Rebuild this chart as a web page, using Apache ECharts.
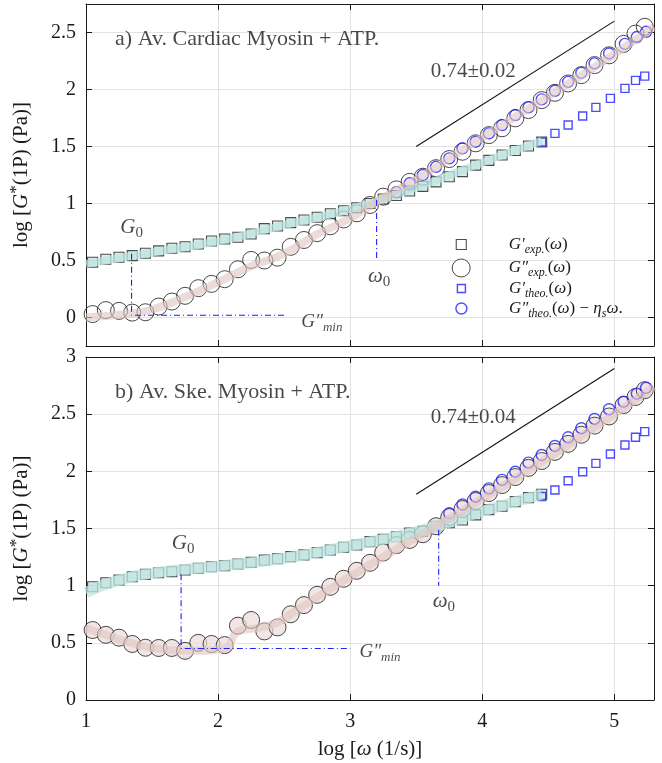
<!DOCTYPE html>
<html>
<head>
<meta charset="utf-8"/>
<title>log G* vs log omega</title>
<script src="https://cdn.jsdelivr.net/npm/echarts@6/dist/echarts.min.js"></script>
<style>
html, body { margin: 0; padding: 0; background: #fff; }
#placeholder { width: 662px; height: 763px; }
</style>
</head>
<body>
<div id="placeholder"></div>
<script>
// log(omega) of the measured points
var xStore = [1.05,1.15,1.25,1.35,1.45,1.55,1.65,1.75,1.85,1.95,2.05,2.15,2.25,2.35,2.45,2.55,2.65,2.75,2.85,2.95,
              3.05,3.15,3.25,3.35,3.45,3.55,3.65,3.75,3.85,3.95,4.05,4.15,4.25,4.35,4.45];
var xLoss  = [1.05,1.15,1.25,1.35,1.45,1.55,1.65,1.75,1.85,1.95,2.05,2.15,2.25,2.35,2.45,2.55,2.65,2.75,2.85,2.95,
              3.05,3.15,3.25,3.35,3.45,3.55,3.65,3.75,3.85,3.95,4.05,4.15,4.25,4.35,4.45,4.55,4.65,4.75,4.85,4.96,
              5.07,5.16,5.23];
var xTheoStore = [4.45,4.55,4.65,4.76,4.86,4.97,5.08,5.16,5.23];

// a) cardiac myosin
var aStore = [0.485,0.511,0.528,0.543,0.563,0.584,0.607,0.621,0.645,0.671,0.689,0.704,0.733,0.78,0.803,0.832,0.855,0.879,0.91,0.937,
              0.963,1.0,1.04,1.07,1.11,1.15,1.19,1.235,1.28,1.337,1.378,1.425,1.465,1.505,1.54];
var aLoss  = [0.03,0.065,0.058,0.043,0.046,0.096,0.14,0.19,0.257,0.295,0.336,0.423,0.505,0.50,0.525,0.62,0.68,0.74,0.80,0.86,
              0.914,0.987,1.06,1.124,1.19,1.235,1.31,1.39,1.454,1.528,1.60,1.66,1.747,1.82,1.907,1.971,2.053,2.126,2.214,2.30,
              2.40,2.49,2.55];
var aTheoStore = [1.54,1.615,1.688,1.767,1.843,1.922,2.01,2.08,2.117];
var aTheoLossX = [3.35,3.45,3.55,3.65,3.75,3.85,3.95,4.05,4.15,4.25,4.35,4.45,4.55,4.65,4.75,4.85,4.96,5.08,5.17,5.24];
var aTheoLoss  = [1.10,1.177,1.25,1.322,1.396,1.484,1.542,1.615,1.688,1.776,1.843,1.913,1.989,2.067,2.146,2.229,2.316,2.40,2.46,2.506];

// b) skeletal myosin
var bStore = [0.99,1.026,1.05,1.078,1.099,1.113,1.122,1.137,1.152,1.166,1.175,1.19,1.204,1.225,1.235,1.254,1.269,1.289,1.312,1.336,
              1.356,1.385,1.405,1.428,1.46,1.475,1.52,1.55,1.575,1.619,1.665,1.695,1.735,1.77,1.80];
var bLoss  = [0.612,0.57,0.545,0.49,0.457,0.455,0.455,0.43,0.50,0.49,0.48,0.65,0.70,0.60,0.635,0.75,0.83,0.92,0.99,1.06,
              1.13,1.20,1.29,1.355,1.40,1.45,1.52,1.60,1.67,1.74,1.81,1.88,1.95,2.03,2.09,2.17,2.24,2.32,2.40,2.48,
              2.58,2.65,2.71];
var bTheoStore = [1.78,1.837,1.918,1.997,2.07,2.152,2.23,2.298,2.347];
var bTheoLossX = [3.75,3.85,3.95,4.05,4.15,4.25,4.35,4.45,4.55,4.65,4.75,4.85,4.96,5.07,5.17,5.24];
var bTheoLoss  = [1.633,1.71,1.778,1.851,1.925,1.997,2.076,2.143,2.222,2.298,2.377,2.458,2.543,2.61,2.68,2.73];

// pale fit bands behind the markers
var aBandStoreX = [1.0,1.5,2.0,2.5,3.0,3.5,4.0,4.45];
var aBandStore  = [0.47,0.57,0.67,0.81,0.95,1.14,1.36,1.55];
var aBandLossX  = [1.0,1.3,1.5,1.75,2.0,2.25,2.5,2.75,3.0,3.25,3.5,4.0,4.5,5.0,5.3];
var aBandLoss   = [0.0,0.03,0.07,0.18,0.31,0.45,0.56,0.73,0.87,1.05,1.21,1.58,1.94,2.31,2.55];
var bBandStoreX = [1.0,1.2,1.5,2.0,2.5,3.0,3.5,4.0,4.45];
var bBandStore  = [0.94,1.03,1.11,1.17,1.24,1.35,1.47,1.65,1.8];
var bBandLossX  = [1.0,1.2,1.4,1.6,1.8,2.05,2.15,2.3,2.45,2.6,3.0,3.5,4.0,4.5,5.0,5.3];
var bBandLoss   = [0.63,0.55,0.48,0.44,0.43,0.45,0.6,0.63,0.68,0.79,1.08,1.42,1.76,2.12,2.5,2.74];

// slope guides and G0 / omega0 construction lines
var aSlope = [[3.5,1.5],[5.0,2.6]];
var bSlope = [[3.5,1.8],[5.0,2.9]];
var aG0 = [[1.345,0.56],[1.345,0.02],[2.5,0.02]];
var aW0 = [[3.2,1.03],[3.2,0.5]];
var bG0 = [[1.72,1.1],[1.72,0.45],[3.0,0.45]];
var bW0 = [[3.67,1.49],[3.67,1.0]];

// annotation anchors (left-middle of the text)
var aNotes = [[1.22,2.44],[3.61,2.16],[1.26,0.79],[3.135,0.36],[2.63,-0.04]];
var bNotes = [[1.22,2.69],[3.61,2.47],[1.65,1.37],[3.625,0.86],[3.07,0.42]];

var FONT = "'Liberation Serif', 'DejaVu Serif', serif";
var INK = '#1a1a1a';
var BLUE = '#1f1fff';

function zip(xs, ys) {
	return xs.map(function (x, i) { return [x, ys[i]]; });
}

function rich(size) {
	var sub = Math.round(size * 0.7);
	return {
		n: { fontFamily: FONT, fontSize: size, lineHeight: size + 5, color: INK },
		i: { fontFamily: FONT, fontSize: size, fontStyle: 'italic', lineHeight: size + 5, color: INK },
		s: { fontFamily: FONT, fontSize: sub, fontStyle: 'italic', lineHeight: sub, verticalAlign: 'bottom', color: INK },
		r: { fontFamily: FONT, fontSize: sub, lineHeight: sub, verticalAlign: 'bottom', color: INK },
		u: { fontFamily: FONT, fontSize: sub + 2, lineHeight: sub, verticalAlign: 'top', color: INK }
	};
}

function xAxis(gi, pos, withLabels, name) {
	return {
		type: 'value', gridIndex: gi, position: pos, min: 1, max: 5.3, interval: 1,
		name: name || '', nameLocation: 'middle', nameGap: 36,
		nameTextStyle: { rich: rich(21) },
		axisLine: { show: true, onZero: false, lineStyle: { color: INK, width: 1 } },
		axisTick: { show: true, inside: true, length: 6, lineStyle: { color: INK } },
		axisLabel: {
			show: withLabels, margin: 12, color: INK, fontFamily: FONT, fontSize: 20,
			formatter: function (v) { return v % 1 === 0 ? String(v) : ''; }
		},
		splitLine: { show: pos === 'bottom', lineStyle: { color: '#e2e2e2', width: 1 } }
	};
}

function yAxis(gi, pos, min, max, withName) {
	var ax = {
		type: 'value', gridIndex: gi, position: pos, min: min, max: max,
		name: withName ? '{n|log [}{i|G}{u|*}{n|(1P) (Pa)]}' : '',
		nameLocation: 'middle', nameGap: 52, nameRotate: 90,
		nameTextStyle: { rich: rich(21) },
		axisLine: { show: true, onZero: false, lineStyle: { color: INK, width: 1 } },
		axisTick: { show: true, inside: true, length: 6, lineStyle: { color: INK } },
		axisLabel: {
			show: pos === 'left', margin: 10, color: INK, fontFamily: FONT, fontSize: 20,
			formatter: function (v) { return Math.abs(v * 2 - Math.round(v * 2)) < 1e-6 ? String(v) : ''; }
		},
		splitLine: { show: pos === 'left', lineStyle: { color: '#e2e2e2', width: 1 } }
	};
	if (min === 0) ax.interval = 0.5;
	return ax;
}

var noteText = [
	['{n|a) Av. Cardiac Myosin + ATP.}', '{n|0.74±0.02}', '{i|G}{r|0}', '{i|ω}{r|0}', '{i|G″}{s|min}'],
	['{n|b) Av. Ske. Myosin + ATP.}', '{n|0.74±0.04}', '{i|G}{r|0}', '{i|ω}{r|0}', '{i|G″}{s|min}']
];

function panelSeries(k, d) {
	var base = { xAxisIndex: 2 * k, yAxisIndex: 2 * k, silent: true, animation: false };
	function s(o) { return Object.assign({}, base, o); }
	return [
		s({ type: 'line', data: zip(d.bandStoreX, d.bandStore), smooth: true, symbol: 'none',
			lineStyle: { color: 'rgba(190,228,224,0.75)', width: k ? 11 : 8 } }),
		s({ type: 'line', data: zip(d.bandLossX, d.bandLoss), smooth: true, symbol: 'none',
			lineStyle: { color: 'rgba(224,196,192,0.6)', width: 8 } }),
		s({ type: 'line', data: d.g0, symbol: 'none', lineStyle: { color: BLUE, width: 1.1, type: [6, 3, 1, 3] } }),
		s({ type: 'line', data: d.w0, symbol: 'none', lineStyle: { color: BLUE, width: 1.1, type: [6, 3, 1, 3] } }),
		s({ name: 'gpExp', type: 'scatter', data: zip(xStore, d.store), symbol: 'rect', symbolSize: 10,
			itemStyle: { color: '#cdeae6', borderColor: '#222', borderWidth: 1.1 } }),
		s({ name: 'gppExp', type: 'scatter', data: zip(xLoss, d.loss), symbol: 'circle', symbolSize: 17,
			itemStyle: { color: k ? 'rgba(234,218,215,0.85)' : 'rgba(255,255,255,0)', borderColor: '#1a1a1a', borderWidth: 1 } }),
		s({ name: 'gpTheo', type: 'scatter', data: zip(xTheoStore, d.theoStore), symbol: 'rect', symbolSize: 8,
			itemStyle: { color: 'rgba(255,255,255,0)', borderColor: BLUE, borderWidth: 1.4 } }),
		s({ name: 'gppTheo', type: 'scatter', data: zip(d.theoLossX, d.theoLoss), symbol: 'circle', symbolSize: 11,
			itemStyle: { color: 'rgba(255,255,255,0)', borderColor: BLUE, borderWidth: 1.4 } }),
		s({ type: 'line', data: d.slope, symbol: 'none', lineStyle: { color: '#111', width: 1.1 } }),
		s({ type: 'scatter', symbolSize: 0, z: 10,
			data: d.notes.map(function (p, j) {
				var size = j === 0 ? 22 : (j === 4 ? 19 : 21);
				return { value: p, label: { formatter: noteText[k][j], rich: rich(size) } };
			}),
			label: { show: true, position: 'right', distance: 0 } })
	];
}

var seriesA = panelSeries(0, {
	bandStoreX: aBandStoreX, bandStore: aBandStore, bandLossX: aBandLossX, bandLoss: aBandLoss,
	store: aStore, loss: aLoss, theoStore: aTheoStore, theoLossX: aTheoLossX, theoLoss: aTheoLoss,
	slope: aSlope, g0: aG0, w0: aW0, notes: aNotes
});
var seriesB = panelSeries(1, {
	bandStoreX: bBandStoreX, bandStore: bBandStore, bandLossX: bBandLossX, bandLoss: bBandLoss,
	store: bStore, loss: bLoss, theoStore: bTheoStore, theoLossX: bTheoLossX, theoLoss: bTheoLoss,
	slope: bSlope, g0: bG0, w0: bW0, notes: bNotes
});

// legend rows (one legend per row so every icon keeps its own size);
// the legend box starts at the icon's left edge, so shift by half the icon size
var legendRows = [
	{ name: 'gpExp', top: 243, size: 10, icon: 'path://M0,0H1V1H0Z', color: '#fff', border: '#222', bw: 1.1,
	  text: '{i|G′}{s|exp.}{n|(}{i|ω}{n|)}' },
	{ name: 'gppExp', top: 265.5, size: 18, icon: 'circle', color: '#fff', border: '#1a1a1a', bw: 1,
	  text: '{i|G″}{s|exp.}{n|(}{i|ω}{n|)}' },
	{ name: 'gpTheo', top: 287, size: 8, icon: 'path://M0,0H1V1H0Z', color: 'rgba(255,255,255,0)', border: BLUE, bw: 1.4,
	  text: '{i|G′}{s|theo.}{n|(}{i|ω}{n|)}' },
	{ name: 'gppTheo', top: 307, size: 11, icon: 'circle', color: 'rgba(255,255,255,0)', border: BLUE, bw: 1.4,
	  text: '{i|G″}{s|theo.}{n|(}{i|ω}{n|) − }{i|η}{s|s}{i|ω}{n|.}' }
];
var legends = legendRows.map(function (r) {
	return {
		left: 455.7 - r.size / 2, top: r.top - 12, orient: 'vertical', selectedMode: false,
		itemWidth: 85, itemHeight: r.size, symbolKeepAspect: true,
		data: [{ name: r.name, icon: r.icon,
			itemStyle: { color: r.color, borderColor: r.border, borderWidth: r.bw } }],
		formatter: function () { return r.text; },
		textStyle: { rich: rich(17) }
	};
});

var myChart = echarts.init(document.getElementById('placeholder'));
var option = {
	backgroundColor: '#fff',
	animation: false,
	legend: legends,
	grid: [
		{ left: 83, top: 4, width: 571, height: 342 },
		{ left: 83, top: 357, width: 571, height: 343 }
	],
	xAxis: [
		xAxis(0, 'bottom', false),
		xAxis(0, 'top', false),
		xAxis(1, 'bottom', true, '{n|log [}{i|ω}{n| (1/s)]}'),
		xAxis(1, 'top', false)
	],
	yAxis: [
		yAxis(0, 'left', -0.25, 2.75, true),
		yAxis(0, 'right', -0.25, 2.75, false),
		yAxis(1, 'left', 0, 3, true),
		yAxis(1, 'right', 0, 3, false)
	],
	series: seriesA.concat(seriesB)
};
myChart.setOption(option, true);
</script>
</body>
</html>
